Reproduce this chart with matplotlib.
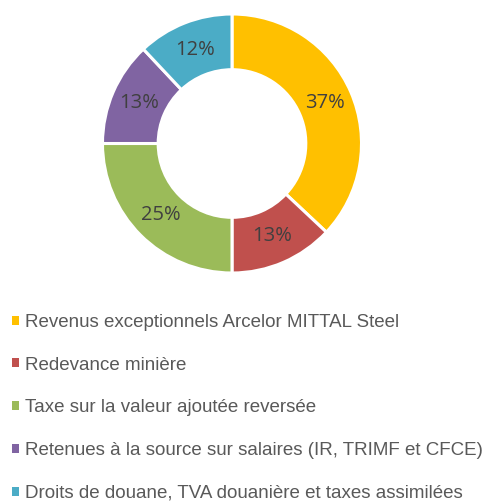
import matplotlib
matplotlib.use("Agg")
import matplotlib.pyplot as plt

categories = [
    "Revenus exceptionnels Arcelor MITTAL Steel",
    "Redevance minière",
    "Taxe sur la valeur ajoutée reversée",
    "Retenues à la source sur salaires (IR, TRIMF et CFCE)",
    "Droits de douane, TVA douanière et taxes assimilées",
]
values = [37, 13, 25, 13, 12]
colors = ["#FFC000", "#C0504D", "#9BBB59", "#8064A2", "#4BACC6"]

W, H = 483, 503
fig = plt.figure(figsize=(W / 100, H / 100), dpi=100)
cx, cy, r = 232, 143.5, 129.5
ax = fig.add_axes([(cx - r) / W, (H - cy - r) / H, 2 * r / W, 2 * r / H])

wedges, texts, autotexts = ax.pie(
    values, colors=colors, startangle=90, counterclock=False,
    autopct=lambda p: f"{p:.0f}%", pctdistance=0.78,
    wedgeprops=dict(width=0.43, edgecolor="white", linewidth=2.2),
    textprops=dict(fontsize=14.5, color="#404040", family="Open Sans"),
)
ax.set_xlim(-1, 1)
ax.set_ylim(-1, 1)
ax.set_aspect("equal")
ax.axis("off")

leg = fig.legend(
    wedges, categories, loc="upper left",
    bbox_to_anchor=(12 / W, 1 - 314 / H),
    frameon=False,
    prop=dict(family="Liberation Sans", size=13.5),
    handlelength=0.36, handleheight=0.36, handletextpad=0.35,
    labelspacing=1.37, borderaxespad=0, borderpad=0,
)
for t in leg.get_texts():
    t.set_color("#595959")
for h in leg.legend_handles:
    h.set_edgecolor("none")

fig.savefig("out.png", dpi=100)
